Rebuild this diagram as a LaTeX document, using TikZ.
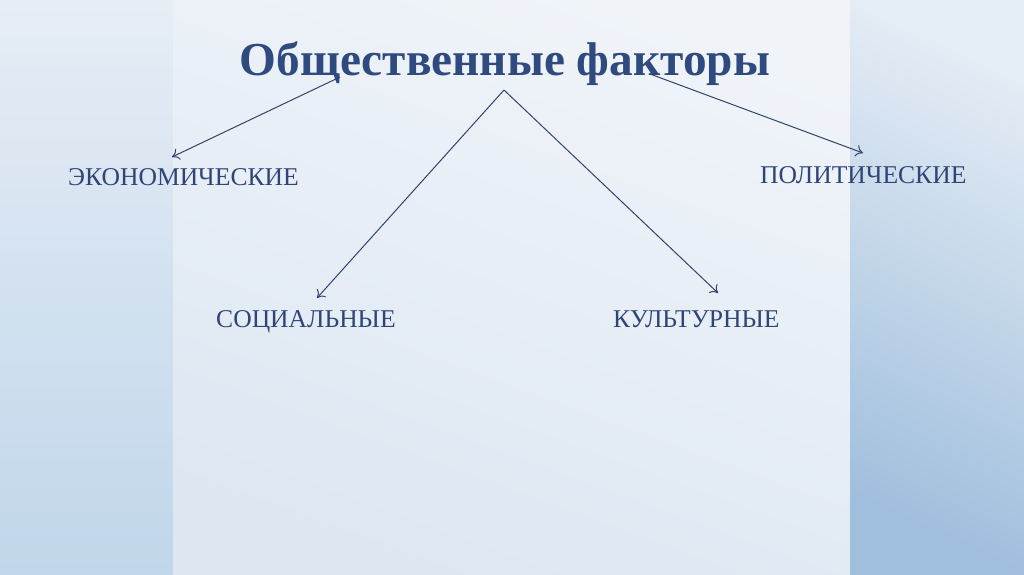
\documentclass[tikz,border=0pt]{standalone}
\usepackage{fontspec}
\setmainfont{Liberation Serif}
\usetikzlibrary{arrows.meta}
\definecolor{titleblue}{HTML}{2E4A7E}
\definecolor{labelblue}{HTML}{2F4576}
\definecolor{arrowgray}{HTML}{34436A}
\definecolor{lefttop}{HTML}{E6EDF5}
\definecolor{leftbot}{HTML}{C0D6EA}
\definecolor{midtop}{HTML}{F0F4F9}
\definecolor{midbot}{HTML}{DDE7F2}
\definecolor{righttop}{HTML}{E4ECF5}
\definecolor{rightbot}{HTML}{A0BFDD}
\tikzset{
  label text/.style={text=labelblue, font=\fontsize{25.6}{30}\selectfont, inner sep=0pt, anchor=base west},
  link/.style={draw=arrowgray, line width=1pt, -{To[length=7pt,width=12pt]}},
}
\begin{document}
\begin{tikzpicture}[x=1pt,y=-1pt]
\useasboundingbox (0,0) rectangle (1024,574);
% background panels
\shade[top color=lefttop, bottom color=leftbot] (0,0) rectangle (173,574);
\shade[top color=midtop, bottom color=midbot, shading angle=-20] (173,0) rectangle (850,574);
\shade[top color=righttop, bottom color=rightbot, shading angle=-25] (850,0) rectangle (1024,574);
% title
\node[text=titleblue, font=\bfseries\fontsize{47.3}{54}\selectfont, inner sep=0pt, anchor=base] (title) at (505,75) {Общественные факторы};
% labels
\node[label text] (econ) at (68,185) {ЭКОНОМИЧЕСКИЕ};
\node[label text] (polit) at (760,183) {ПОЛИТИЧЕСКИЕ};
\node[label text] (soc) at (216,327) {СОЦИАЛЬНЫЕ};
\node[label text] (cult) at (613,327) {КУЛЬТУРНЫЕ};
% connector end points
\coordinate (s1) at (340,77);
\coordinate (e1) at (172,157);
\coordinate (s2) at (650,74);
\coordinate (e2) at (863,153);
\coordinate (apex) at (504,90);
\coordinate (e3) at (317,298);
\coordinate (e4) at (718,293);
\draw[link] (s1) -- (e1);
\draw[link] (s2) -- (e2);
\draw[link] (apex) -- (e3);
\draw[link] (apex) -- (e4);
\end{tikzpicture}
\end{document}
